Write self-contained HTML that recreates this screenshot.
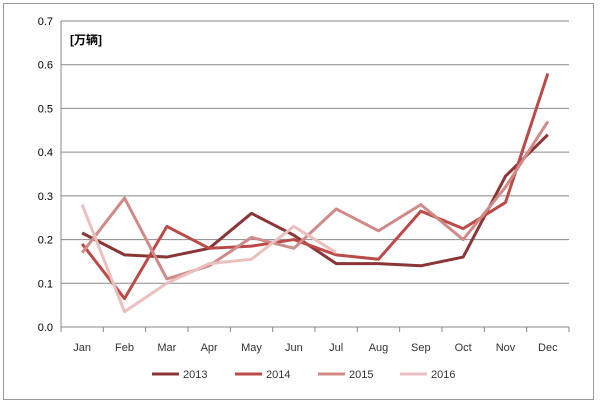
<!DOCTYPE html>
<html><head><meta charset="utf-8"><style>
body{margin:0;background:#fff;}
svg{display:block;font-family:"Liberation Sans","Noto Sans CJK SC",sans-serif;}
</style></head><body>
<svg id="chart" width="600" height="404" viewBox="0 0 600 404">
<rect x="3.5" y="3.5" width="590" height="396" fill="#fff" stroke="#999"/>
<g id="grid"></g><g id="axes"></g><g id="series"></g><g id="legend"></g>
<text x="70" y="44" font-size="12" font-weight="bold" fill="#000">[万辆]</text>
</svg>
<script>
const months=["Jan","Feb","Mar","Apr","May","Jun","Jul","Aug","Sep","Oct","Nov","Dec"];
const yTicks=[0,0.1,0.2,0.3,0.4,0.5,0.6,0.7];
const years=["2013","2014","2015","2016"];
const s2013=[0.215,0.165,0.16,0.18,0.26,0.21,0.145,0.145,0.14,0.16,0.345,0.44];
const s2014=[0.19,0.065,0.23,0.18,0.185,0.2,0.165,0.155,0.265,0.225,0.285,0.58];
const s2015=[0.17,0.295,0.11,0.14,0.205,0.18,0.27,0.22,0.28,0.2,0.32,0.47];
const s2016=[0.28,0.035,0.1,0.145,0.155,0.23,0.17];
const colors=["#8b3636","#bb4a48","#d08a88","#e9c0be"];
const NS="http://www.w3.org/2000/svg";
const x0=61,x1=569,yb=327,yt=21;
const bw=(x1-x0)/12;
const X=i=>x0+bw*(i+0.5);
const Y=v=>yb-(v/0.7)*(yb-yt);
function mk(t,a,p){const e=document.createElementNS(NS,t);for(const k in a)e.setAttribute(k,a[k]);p.appendChild(e);return e;}
const grid=document.getElementById('grid'),axes=document.getElementById('axes'),ser=document.getElementById('series'),leg=document.getElementById('legend');
yTicks.forEach(v=>{
 if(v>0){const l=mk('line',{x1:x0,x2:x1,y1:Y(v),y2:Y(v),stroke:'#888','stroke-width':1},grid);
 
 }
 const t=mk('text',{x:x0-8,y:Y(v)+4,'text-anchor':'end','font-size':11,fill:'#000'},axes);
 t.textContent=v.toFixed(1);
 
 
});
mk('line',{x1:x0,x2:x0,y1:yt,y2:yb,stroke:'#888'},axes);
mk('line',{x1:x0,x2:x1,y1:yb,y2:yb,stroke:'#888'},axes);
for(let i=0;i<=12;i++)mk('line',{x1:x0+bw*i,x2:x0+bw*i,y1:yb,y2:yb+5,stroke:'#888'},axes);
months.forEach((m,i)=>{const t=mk('text',{x:X(i),y:yb+24,'text-anchor':'middle','font-size':11,fill:'#333'},axes);
 t.textContent=m;
 
 });
[s2013,s2014,s2015,s2016].forEach((s,k)=>{
 const p=mk('polyline',{points:s.map((v,i)=>X(i)+','+Y(v)).join(' '),fill:'none',stroke:colors[k],'stroke-width':3,'stroke-linejoin':'round'},ser);
 
 
});
const lx=[152,235,318,400];
years.forEach((y,k)=>{
 const g=mk('g',{},leg);
 
 
 mk('line',{x1:lx[k],x2:lx[k]+27,y1:374,y2:374,stroke:colors[k],'stroke-width':3},g);
 const t=mk('text',{x:lx[k]+31,y:378,'font-size':11,fill:'#333'},g);t.textContent=y;
});
</script>
</body></html>
